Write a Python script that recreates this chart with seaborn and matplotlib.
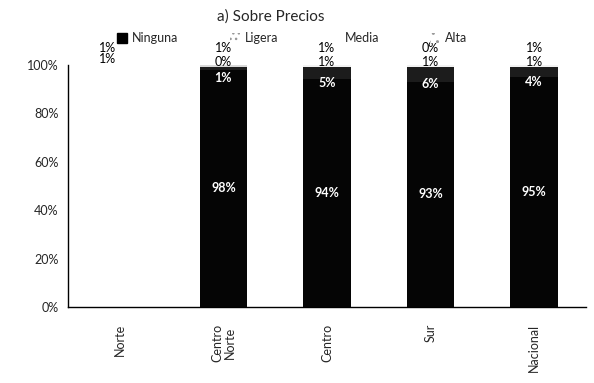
import numpy as np
import pandas as pd
import matplotlib
matplotlib.use("Agg")
import matplotlib.pyplot as plt
import seaborn as sns
from matplotlib.patches import Patch

# Datos (porcentajes)
regiones = ["Norte", "Centro\nNorte", "Centro", "Sur", "Nacional"]
ninguna = [98, 98, 94, 93, 95]
ligera = [0, 1, 5, 6, 4]
media = [1, 0, 1, 1, 1]
alta = [1, 1, 1, 0, 1]
niveles = ["Ninguna", "Ligera", "Media", "Alta"]

sns.set_theme(style="white")
plt.rcParams["font.family"] = ["Lato", "DejaVu Sans"]

df = pd.DataFrame({"Region": regiones, "Ninguna": ninguna, "Ligera": ligera,
                   "Media": media, "Alta": alta})
# acumulados para barras apiladas (se dibuja de arriba hacia abajo)
df["c_ninguna"] = df["Ninguna"]
df["c_ligera"] = df["c_ninguna"] + df["Ligera"]
df["c_media"] = df["c_ligera"] + df["Media"]
df["c_alta"] = df["c_media"] + df["Alta"]

fig = plt.figure(figsize=(5.94, 3.83), dpi=100)
ax = fig.add_axes([0.1145, 0.1984, 0.872, 0.632])

capas = [("c_alta", "#d9d9d9"), ("c_media", "#f2f2f2"),
         ("c_ligera", "#1c1c1c"), ("c_ninguna", "#050505")]
for col, color in capas:
    # la barra de Norte sale casi blanca en el original (impresion borrosa)
    paleta = {r: (color if r != "Norte" else "white") for r in regiones}
    sns.barplot(data=df, x="Region", y=col, hue="Region", palette=paleta,
                width=0.46, ax=ax, legend=False, saturation=1, linewidth=0)

ax.set_xlim(-0.5, len(regiones) - 0.5)
ax.set_ylim(0, 100)
ax.set_yticks(np.arange(0, 101, 20))
ax.set_yticklabels([f"{v}%" for v in range(0, 101, 20)], fontsize=9)
ax.set_xticks(range(len(regiones)))
ax.set_xticklabels(regiones, rotation=90, fontsize=9, linespacing=1.0)
ax.set_xticks(np.arange(-0.5, len(regiones), 1), minor=True)
ax.tick_params(axis="x", which="major", length=0, pad=12)
ax.tick_params(axis="x", which="minor", length=4, direction="out", width=0.8, color="black")
ax.tick_params(axis="y", length=4, direction="out", width=0.8, color="black", pad=3)
ax.set_xlabel("")
ax.set_ylabel("")
for s in ["top", "right"]:
    ax.spines[s].set_visible(False)
for s in ["left", "bottom"]:
    ax.spines[s].set_color("black")
    ax.spines[s].set_linewidth(1.0)

# etiquetas de datos
for i, r in df.iterrows():
    if r["Region"] != "Norte":
        ax.text(i, r["Ninguna"] / 2, f"{r['Ninguna']}%", ha="center", va="center",
                color="white", fontsize=9, fontweight="bold")
        ax.annotate(f"{r['Ligera']}%", (i, r["c_ninguna"] + r["Ligera"] / 2),
                    xytext=(0, -7), textcoords="offset points", ha="center",
                    va="center", color="white", fontsize=9, fontweight="bold")
        ax.annotate(f"{r['Media']}%", (i, 100), xytext=(0, 2), textcoords="offset points",
                    ha="center", va="center", color="black", fontsize=9,
                    annotation_clip=False)
    else:
        ax.annotate(f"{r['Media']}%", (i - 0.12, 100), xytext=(0, 4), textcoords="offset points",
                    ha="center", va="center", color="black", fontsize=9,
                    annotation_clip=False)
    ax.annotate(f"{r['Alta']}%", (i if r["Region"] != "Norte" else i - 0.12, 100),
                xytext=(0, 12), textcoords="offset points", ha="center", va="center",
                color="black", fontsize=9, annotation_clip=False)

fig.text(0.455, 0.958, "a) Sobre Precios", ha="center", va="center", fontsize=11)

handles = [Patch(facecolor="black", edgecolor="black"),
           Patch(facecolor="white", edgecolor="#999999", hatch="...", linewidth=0),
           Patch(facecolor="white", edgecolor="white", linewidth=0),
           Patch(facecolor="white", edgecolor="#999999", hatch="..", linewidth=0)]
fig.legend(handles, niveles, loc="center", bbox_to_anchor=(0.492, 0.90), ncol=4,
           frameon=False, fontsize=9, handlelength=0.8, handleheight=0.8,
           handletextpad=0.4, columnspacing=4.1)

fig.savefig("out.png", dpi=100)
